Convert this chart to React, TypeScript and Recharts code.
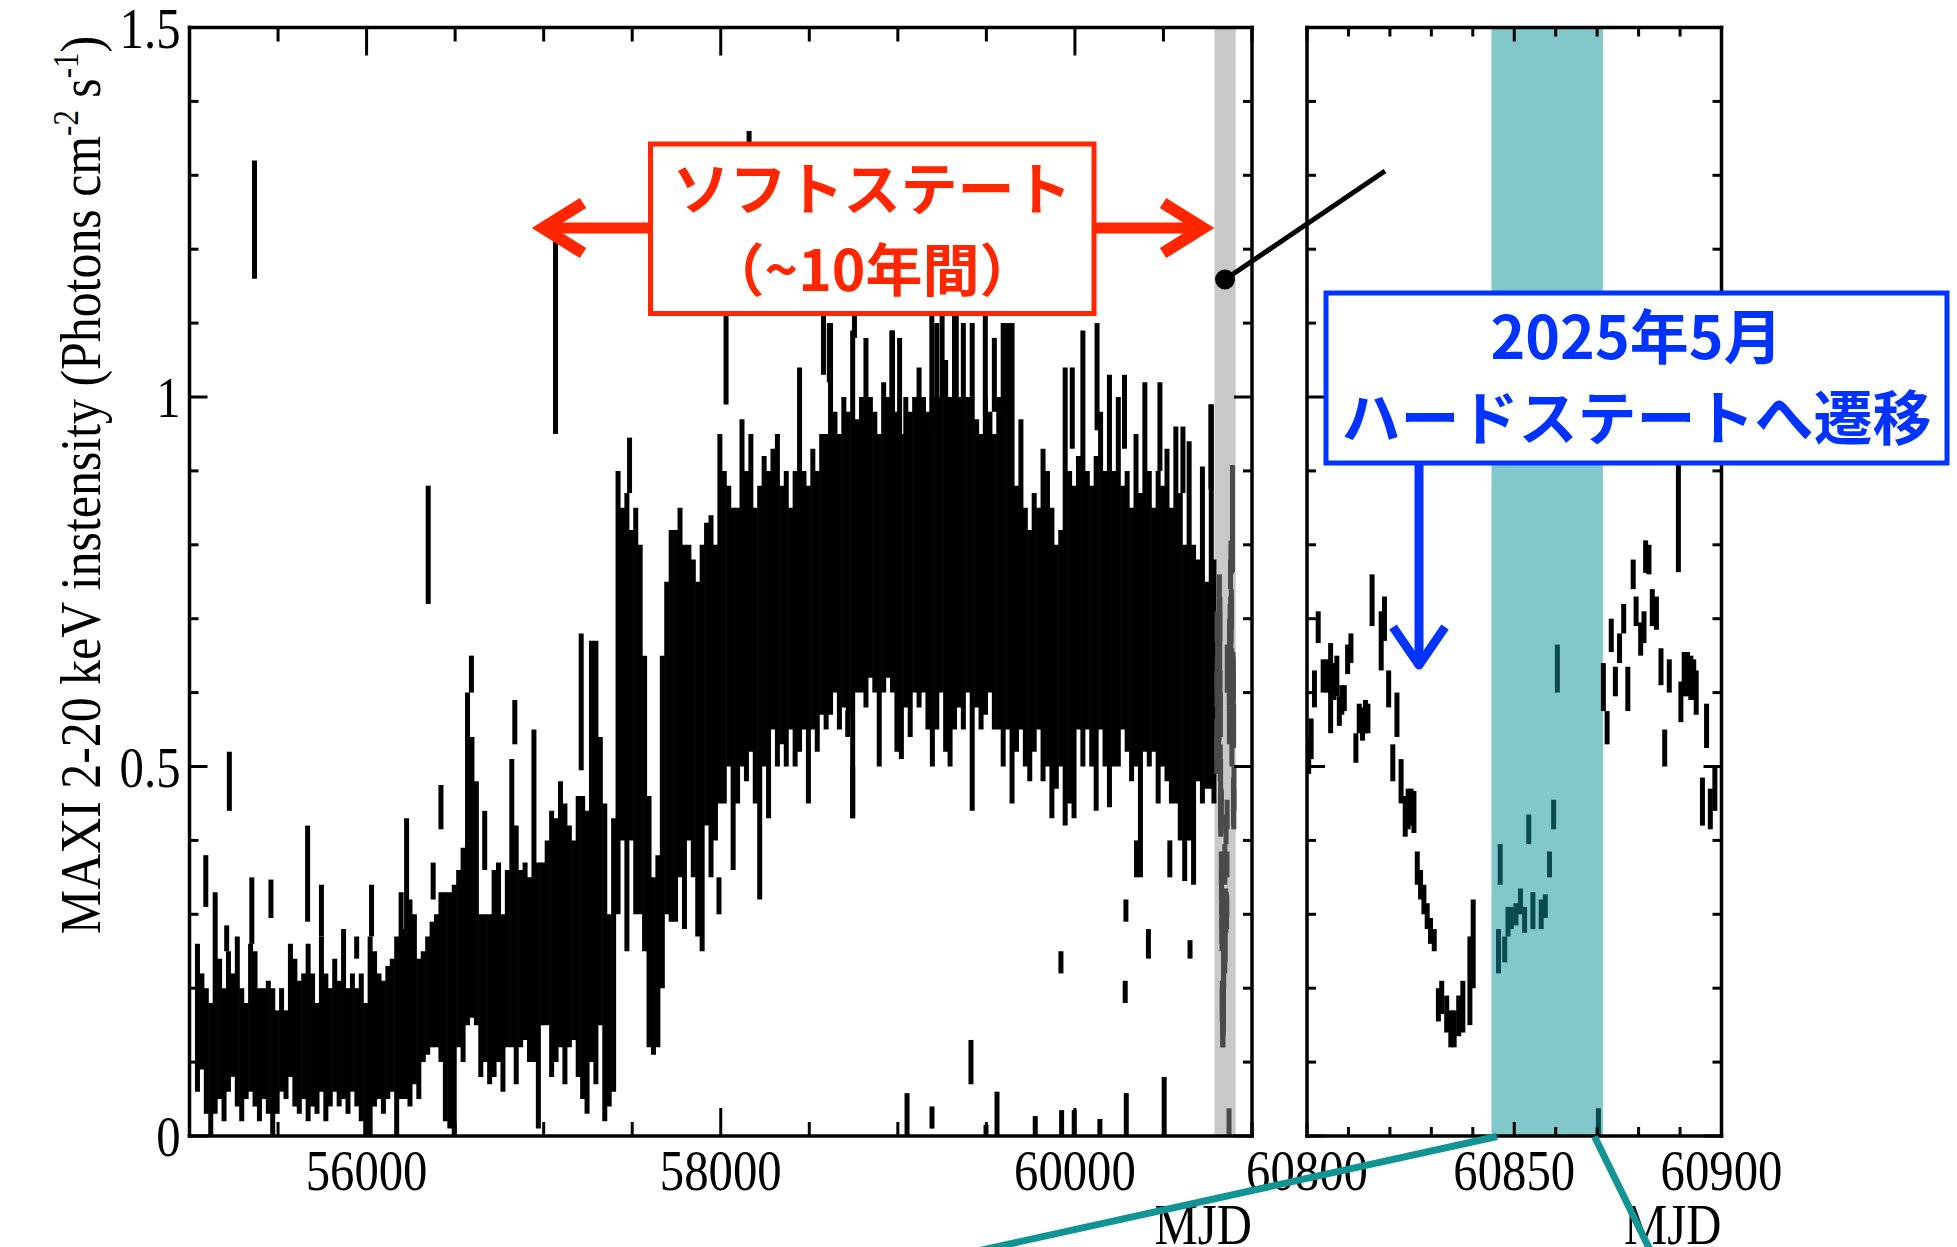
import React from 'react';
import { ComposedChart, Scatter, ErrorBar, XAxis, YAxis, ReferenceArea } from 'recharts';

// ---- MAXI light curve, [MJD, lower, upper] (error-bar extent) ----
const era2009to2013: number[][] = [
  [55045,0.06,0.26],[55070,0.09,0.22],[55095,0.03,0.2],[55120,0.0,0.18],[55145,0.03,0.33],[55170,0.05,0.24],
  [55195,0.02,0.2],[55220,0.06,0.25],[55245,0.08,0.22],[55270,0.04,0.27],[55295,0.02,0.2],[55320,0.05,0.18],
  [55345,0.06,0.26],[55370,0.04,0.25],[55395,0.02,0.2],[55420,0.05,0.2],[55445,0.03,0.21],[55470,0.0,0.2],
  [55495,0.03,0.17],[55520,0.06,0.2],[55545,0.05,0.17],[55570,0.08,0.26],[55595,0.04,0.24],[55620,0.03,0.21],
  [55645,0.05,0.22],[55670,0.02,0.26],[55695,0.04,0.22],[55720,0.03,0.18],[55745,0.06,0.27],[55770,0.02,0.22],
  [55795,0.04,0.2],[55820,0.06,0.24],[55845,0.04,0.21],[55870,0.05,0.28],[55895,0.03,0.2],[55920,0.06,0.22],
  [55945,0.04,0.2],[55970,0.02,0.22],[55995,0.0,0.18],[56020,0.0,0.27],[56045,0.04,0.25],[56070,0.05,0.22],
  [56095,0.03,0.21],[56120,0.05,0.23],[56145,0.06,0.24],[56170,0.0,0.27],[56195,0.05,0.33],[56220,0.05,0.28],
  [56245,0.04,0.32],[56270,0.07,0.3],[56295,0.05,0.24],[56320,0.1,0.25],[56345,0.11,0.27],[56370,0.12,0.29],
  [56395,0.12,0.3],[56420,0.1,0.33],[56445,0.02,0.33],[56470,0.01,0.33],[56495,0.0,0.34],[56520,0.12,0.36],
  [56545,0.1,0.39],[56570,0.15,0.6],
];
const era2013to2017: number[][] = [
  [56595,0.16,0.54],[56620,0.15,0.48],[56645,0.08,0.3],[56670,0.1,0.3],[56695,0.07,0.3],[56720,0.08,0.36],
  [56745,0.1,0.37],[56770,0.06,0.3],[56795,0.12,0.36],[56820,0.12,0.51],[56845,0.07,0.42],[56870,0.12,0.36],
  [56895,0.13,0.37],[56920,0.1,0.35],[56945,0.1,0.55],[56970,0.01,0.37],[56995,0.15,0.37],[57020,0.15,0.4],
  [57045,0.08,0.44],[57070,0.1,0.43],[57095,0.12,0.48],[57120,0.07,0.45],[57145,0.12,0.42],[57170,0.13,0.4],
  [57195,0.08,0.46],[57220,0.05,0.46],[57245,0.03,0.44],[57270,0.1,0.67],[57295,0.07,0.67],[57320,0.15,0.54],
  [57345,0.02,0.45],[57370,0.04,0.3],[57395,0.06,0.43],[57420,0.3,0.9],[57445,0.4,0.85],[57470,0.25,0.87],
  [57495,0.4,0.82],[57520,0.3,0.85],[57545,0.3,0.8],[57570,0.25,0.65],[57595,0.12,0.46],[57620,0.11,0.35],
  [57645,0.12,0.38],[57670,0.2,0.65],[57695,0.3,0.75],[57720,0.29,0.82],[57745,0.29,0.82],[57770,0.35,0.85],
  [57795,0.28,0.8],[57820,0.4,0.8],[57845,0.35,0.78],[57870,0.27,0.75],[57895,0.25,0.8],[57920,0.42,0.83],
  [57945,0.35,0.84],[57970,0.4,0.8],[57995,0.45,0.95],
];
const era2017to2021: number[][] = [
  [58020,0.45,0.9],[58045,0.5,0.88],[58070,0.36,0.85],[58095,0.45,0.85],[58120,0.5,0.97],[58145,0.48,0.9],
  [58170,0.52,0.95],[58195,0.45,0.85],[58220,0.32,0.88],[58245,0.5,0.92],[58270,0.43,0.9],[58295,0.55,0.93],
  [58320,0.5,0.95],[58345,0.53,0.88],[58370,0.5,0.9],[58395,0.55,0.85],[58420,0.5,0.9],[58445,0.52,1.04],
  [58470,0.55,0.9],[58495,0.45,0.88],[58520,0.55,0.93],[58545,0.52,0.9],[58570,0.57,0.95],[58595,0.55,0.95],
  [58620,0.57,1.1],[58645,0.6,0.98],[58670,0.55,0.95],[58695,0.58,1.0],[58720,0.57,0.98],[58745,0.43,1.09],
  [58770,0.6,0.97],[58795,0.6,1.0],[58820,0.58,1.08],[58845,0.62,1.0],[58870,0.6,0.98],[58895,0.5,0.95],
  [58920,0.6,1.02],[58945,0.62,1.0],[58970,0.6,1.09],[58995,0.52,0.98],[59020,0.51,0.95],[59045,0.58,1.0],
  [59070,0.54,0.98],[59095,0.6,1.0],[59120,0.58,1.04],[59145,0.6,1.0],[59170,0.55,0.98],[59195,0.5,1.0],
  [59220,0.55,1.1],[59245,0.6,1.0],[59270,0.52,1.05],[59295,0.5,1.0],[59320,0.55,1.12],[59345,0.58,1.0],
  [59370,0.55,1.1],[59395,0.6,1.0],[59420,0.44,1.1],[59445,0.58,0.97],[59470,0.55,0.95],[59495,0.57,1.0],
];
const era2021to2025: number[][] = [
  [59520,0.6,0.98],[59545,0.55,0.95],[59570,0.55,1.0],[59595,0.5,1.1],[59620,0.55,1.0],[59645,0.45,1.1],
  [59670,0.52,0.88],[59695,0.55,0.97],[59720,0.5,0.85],[59745,0.48,0.82],[59770,0.52,0.87],[59795,0.55,0.85],
  [59820,0.48,0.93],[59845,0.5,0.9],[59870,0.43,0.85],[59895,0.47,0.8],[59920,0.5,0.82],[59945,0.42,1.04],
  [59970,0.45,0.9],[59995,0.43,0.88],[60020,0.55,0.92],[60045,0.5,1.09],[60070,0.55,0.9],[60095,0.5,0.88],
  [60120,0.44,0.92],[60145,0.55,0.98],[60170,0.5,0.9],[60195,0.445,1.03],[60220,0.5,0.9],[60245,0.5,1.0],
  [60270,0.55,0.88],[60295,0.52,0.9],[60320,0.48,0.85],[60345,0.5,0.95],[60370,0.35,0.87],[60395,0.52,1.02],
  [60420,0.5,0.9],[60445,0.52,0.85],[60470,0.45,0.9],[60495,0.5,0.88],[60520,0.48,0.93],[60545,0.45,0.85],
  [60570,0.45,0.96],[60595,0.4,0.87],[60620,0.345,0.8],[60645,0.4,0.94],[60670,0.34,0.8],[60695,0.48,0.78],
  [60720,0.45,0.906],[60745,0.47,0.75],[60770,0.47,0.99],[60785,0.45,0.78],
];
// isolated points away from the dense band
const isolated: number[][] = [
  [55092,0.31,0.38],[55210,0.25,0.285],[55225,0.44,0.52],[55352,0.26,0.35],[55367,1.16,1.32],[55460,0.295,0.347],
  [55667,0.29,0.42],[55745,0.27,0.34],[55944,0.24,0.27],[56028,0.27,0.34],[56226,0.27,0.43],[56348,0.72,0.88],
  [56376,0.32,0.37],[56420,0.415,0.475],[56592,0.6,0.65],[56667,0.36,0.44],[56837,0.53,0.59],[57067,0.95,1.21],
  [57212,0.495,0.68],[57485,0.87,0.945],[57990,0.3,0.35],[58030,0.99,1.2],[58160,1.2,1.36],[58580,1.03,1.14],
  [58613,1.02,1.1],[58717,0.54,0.575],[58745,0.43,0.5],[58755,1.08,1.12],[58966,1.0,1.09],[59010,0.95,1.08],
  [59052,0.0,0.058],[59192,0.95,1.11],[59193,0.01,0.04],[59250,1.0,1.11],[59330,1.0,1.11],[59413,0.07,0.13],
  [59494,0.95,1.11],[59498,0.0,0.015],[59545,0.98,1.08],[59560,0.0,0.06],[59620,0.98,1.1],[59776,0.0,0.027],
  [59921,0.22,0.25],[59925,0.0,0.035],[59985,0.93,1.04],[59996,0.0,0.035],[60125,0.955,1.1],[60141,0.0,0.023],
  [60280,0.93,1.03],[60284,0.18,0.21],[60288,0.29,0.32],[60290,0.0,0.058],[60348,0.35,0.4],[60415,0.24,0.28],
  [60480,0.9,1.02],[60504,0.0,0.08],[60536,0.35,0.4],[60610,0.87,0.96],[60650,0.24,0.265],[60768,0.875,0.99],
];
// last 100 days (right panel, also inside the grey band of the left panel)
const recent: number[][] = [
  [60800.4,0.49,0.54],[60801.0,0.51,0.565],[60801.8,0.58,0.63],[60802.7,0.667,0.71],[60803.9,0.6,0.645],
  [60804.9,0.6,0.645],[60805.7,0.545,0.667],[60806.5,0.59,0.64],[60807.2,0.595,0.65],[60807.8,0.555,0.595],
  [60808.4,0.57,0.61],[60809.0,0.575,0.61],[60809.8,0.625,0.665],[60810.6,0.64,0.68],[60811.8,0.505,0.545],
  [60812.6,0.545,0.585],[60813.4,0.535,0.58],[60814.1,0.545,0.59],[60814.7,0.545,0.585],[60815.7,0.69,0.76],
  [60817.9,0.63,0.71],[60818.7,0.67,0.73],[60819.7,0.58,0.63],[60820.7,0.48,0.53],[60821.7,0.54,0.6],
  [60822.7,0.45,0.51],[60823.7,0.405,0.46],[60824.4,0.415,0.47],[60825.1,0.42,0.47],[60825.8,0.41,0.467],
  [60826.6,0.34,0.385],[60827.4,0.32,0.36],[60828.2,0.3,0.34],[60829.0,0.28,0.315],[60829.8,0.26,0.295],
  [60830.7,0.25,0.28],[60831.7,0.155,0.2],[60832.5,0.165,0.21],[60833.7,0.14,0.19],[60834.7,0.12,0.17],
  [60835.5,0.12,0.17],[60836.6,0.135,0.19],[60837.6,0.14,0.21],[60839.3,0.15,0.27],[60840.1,0.2,0.32],
  [60846.2,0.22,0.28],[60846.6,0.34,0.395],[60847.7,0.235,0.27],[60848.5,0.27,0.31],[60849.3,0.28,0.31],
  [60850.4,0.285,0.315],[60851.5,0.3,0.335],[60852.5,0.275,0.31],[60853.5,0.395,0.435],[60854.5,0.28,0.33],
  [60856.5,0.28,0.32],[60857.5,0.295,0.327],[60858.5,0.35,0.385],[60859.5,0.415,0.455],[60860.4,0.6,0.665],
  [60870.3,0.0,0.0375],[60871.5,0.575,0.64],[60872.4,0.53,0.575],[60873.4,0.655,0.7],[60874.4,0.595,0.635],
  [60875.4,0.64,0.68],[60876.4,0.68,0.72],[60877.4,0.575,0.635],[60878.7,0.74,0.78],[60879.4,0.69,0.73],
  [60880.5,0.65,0.695],[60881.3,0.667,0.71],[60881.7,0.762,0.806],[60882.5,0.76,0.8],[60883.3,0.69,0.74],
  [60884.3,0.685,0.73],[60885.4,0.61,0.66],[60886.3,0.5,0.55],[60887.4,0.6,0.645],[60889.6,0.763,0.908],
  [60890.2,0.56,0.615],[60891.0,0.595,0.655],[60891.8,0.595,0.655],[60892.6,0.59,0.65],[60893.3,0.59,0.645],
  [60893.9,0.57,0.63],[60895.4,0.42,0.485],[60896.4,0.525,0.585],[60897.3,0.415,0.47],[60898.4,0.44,0.5],
];

const greyBand = [60788, 60908];
const tealBand = [60844.5, 60871.4];

const leftXTicks = [55000, 55500, 56000, 56500, 57000, 57500, 58000, 58500, 59000, 59500, 60000, 60500, 61000];
const leftXLabels = [56000, 58000, 60000];
const rightXTicks = [60800, 60810, 60820, 60830, 60840, 60850, 60860, 60870, 60880, 60890, 60900];
const rightXLabels = [60800, 60850, 60900];
const yTicks = [0, 0.1, 0.2, 0.3, 0.4, 0.5, 0.6, 0.7, 0.8, 0.9, 1, 1.1, 1.2, 1.3, 1.4, 1.5];
const yMajor = [0, 0.5, 1, 1.5];

const SERIF = "'Liberation Serif', 'Times New Roman', serif";
const JP = "'Noto Sans CJK JP', 'Noto Sans', sans-serif";
const SX = 0.84; // horizontal squeeze of the serif lettering

type Row = number[];
const toPts = (rows: Row[]) => rows.map(([x, lo, hi]) => ({ x, y: (lo + hi) / 2, e: (hi - lo) / 2 }));
const allLeft = [...era2009to2013, ...era2013to2017, ...era2017to2021, ...era2021to2025, ...isolated];
const leftBlack = toPts(allLeft.filter((r) => r[0] < greyBand[0]));
const leftGrey = toPts([...allLeft.filter((r) => r[0] >= greyBand[0]), ...recent]);
const rightBlack = toPts(recent.filter((r) => r[0] < tealBand[0] || r[0] > tealBand[1]));
const rightTeal = toPts(recent.filter((r) => r[0] >= tealBand[0] && r[0] <= tealBand[1]));

const isIn = (arr: number[], v: number) => arr.some((m) => Math.abs(m - v) < 1e-6);

function SerifText({ x, y, anchor, children }: { x: number; y: number; anchor: 'start' | 'middle' | 'end'; children: any }) {
  return (
    <text transform={`translate(${x},${y}) scale(${SX},1)`} textAnchor={anchor} fontFamily={SERIF} fontSize={58} fill="#000">
      {children}
    </text>
  );
}

function makeTick(orient: 'bottom' | 'top' | 'left' | 'right', majors: number[], majLen: number, minLen: number, showLabel: boolean) {
  return (props: any) => {
    const { x, y, payload } = props;
    const v = payload.value;
    const major = isIn(majors, v);
    const len = major ? majLen : minLen;
    let line: any = null;
    let label: any = null;
    if (orient === 'bottom') {
      line = <line x1={x} x2={x} y1={y} y2={y - len} stroke="#000" strokeWidth={3} />;
      if (showLabel && major) label = <SerifText x={x} y={y + 54} anchor="middle">{v}</SerifText>;
    } else if (orient === 'top') {
      line = <line x1={x} x2={x} y1={y} y2={y + len} stroke="#000" strokeWidth={3} />;
    } else if (orient === 'left') {
      line = <line x1={x} x2={x + len} y1={y} y2={y} stroke="#000" strokeWidth={3} />;
      if (showLabel && major) label = <SerifText x={x - 9} y={y + 20} anchor="end">{String(v)}</SerifText>;
    } else {
      line = <line x1={x} x2={x - len} y1={y} y2={y} stroke="#000" strokeWidth={3} />;
    }
    return <g>{line}{label}</g>;
  };
}

const Empty = () => <g />;
const axisLine = { stroke: '#000', strokeWidth: 3.5, strokeLinecap: 'square' as const };

function Bars({ data, color }: { data: any[]; color: string }) {
  return (
    <Scatter data={data} xAxisId="b" yAxisId="l" dataKey="y" shape={Empty} isAnimationActive={false} fill={color}>
      <ErrorBar dataKey="e" direction="y" width={0} stroke={color} strokeWidth={5} isAnimationActive={false} />
    </Scatter>
  );
}

function Panel(props: {
  left: number; width: number; margin: any; domain: number[]; xTicks: number[]; xMajor: number[];
  xMajLen: number; xMinLen: number; yLabels: boolean; band: number[]; bandColor: string; children: any;
}) {
  const { left, width, margin, domain, xTicks, xMajor, xMajLen, xMinLen, yLabels, band, bandColor, children } = props;
  return (
    <div style={{ position: 'absolute', left, top: 0 }}>
      <ComposedChart width={width} height={1247} margin={margin}>
        <XAxis xAxisId="b" dataKey="x" type="number" domain={domain} allowDataOverflow ticks={xTicks} interval={0}
          orientation="bottom" height={1} tickSize={0} tickMargin={0} tickLine={false} axisLine={axisLine}
          tick={makeTick('bottom', xMajor, xMajLen, xMinLen, true)} />
        <XAxis xAxisId="t" dataKey="x" type="number" domain={domain} allowDataOverflow ticks={xTicks} interval={0}
          orientation="top" height={1} tickSize={0} tickMargin={0} tickLine={false} axisLine={axisLine}
          tick={makeTick('top', xMajor, xMajLen, xMinLen, false)} />
        <YAxis yAxisId="l" dataKey="y" type="number" domain={[0, 1.5]} allowDataOverflow ticks={yTicks} interval={0}
          orientation="left" width={1} tickSize={0} tickMargin={0} tickLine={false} axisLine={axisLine}
          tick={makeTick('left', yMajor, 18, 9, yLabels)} />
        <YAxis yAxisId="r" dataKey="y" type="number" domain={[0, 1.5]} allowDataOverflow ticks={yTicks} interval={0}
          orientation="right" width={1} tickSize={0} tickMargin={0} tickLine={false} axisLine={axisLine}
          tick={makeTick('right', yMajor, 18, 9, false)} />
        <ReferenceArea xAxisId="b" yAxisId="l" x1={band[0]} x2={band[1]} y1={0} y2={1.5} fill={bandColor} fillOpacity={1} stroke="none" ifOverflow="hidden" />
        {children}
      </ComposedChart>
    </div>
  );
}

export default function App() {
  return (
    <div style={{ position: 'absolute', left: 0, top: 0, width: 1957, height: 1247, overflow: 'hidden', background: '#fff' }}>
      <Panel left={0} width={1300} margin={{ top: 26.5, right: 47, bottom: 110, left: 188.5 }} domain={[55000, 61000]}
        xTicks={leftXTicks} xMajor={leftXLabels} xMajLen={28} xMinLen={14} yLabels={true} band={greyBand} bandColor="#c8c8c8">
        {Bars({ data: leftBlack, color: '#000' })}
        {Bars({ data: leftGrey, color: '#4a4a4a' })}
      </Panel>
      <Panel left={1200} width={700} margin={{ top: 26.5, right: 177.5, bottom: 110, left: 106 }} domain={[60800, 60900]}
        xTicks={rightXTicks} xMajor={rightXLabels} xMajLen={14} xMinLen={9} yLabels={false} band={tealBand} bandColor="#82c8ca">
        {Bars({ data: rightBlack, color: '#000' })}
        {Bars({ data: rightTeal, color: '#0a4a4c' })}
      </Panel>
      <svg width={1957} height={1247} style={{ position: 'absolute', left: 0, top: 0, pointerEvents: 'none' }}>
        <text transform="translate(100,485) rotate(-90) scale(0.86,1)" textAnchor="middle" fontFamily={SERIF} fontSize={58} fill="#000">
          MAXI 2-20 keV instensity (Photons cm<tspan dy={-22} fontSize={36}>-2</tspan><tspan dy={22}> s</tspan><tspan dy={-22} fontSize={36}>-1</tspan><tspan dy={22}>)</tspan>
        </text>
        <SerifText x={1252} y={1244} anchor="end">MJD</SerifText>
        <SerifText x={1721.5} y={1244} anchor="end">MJD</SerifText>

        <line x1={548} y1={228} x2={652} y2={228} stroke="#ff2600" strokeWidth={11} />
        <polyline points="583,203 543,228 583,253" fill="none" stroke="#ff2600" strokeWidth={12} />
        <line x1={1093} y1={228} x2={1198} y2={228} stroke="#ff2600" strokeWidth={11} />
        <polyline points="1163,203 1203,228 1163,253" fill="none" stroke="#ff2600" strokeWidth={12} />
        <rect x={650.5} y={144} width={443.5} height={169.5} fill="#fff" stroke="#ff2600" strokeWidth={5} />
        <text x={872} y={185} textAnchor="middle" dominantBaseline="central" fontFamily={JP} fontWeight={700} fontSize={57} fill="#ff2600">ソフトステート</text>
        <text x={872} y={266} textAnchor="middle" dominantBaseline="central" fontFamily={JP} fontWeight={700} fontSize={57} fill="#ff2600">（~10年間）</text>

        <line x1={1225} y1={279.5} x2={1385} y2={171} stroke="#000" strokeWidth={5} />
        <circle cx={1225} cy={279.5} r={10} fill="#000" />

        <line x1={1419} y1={463} x2={1419} y2={662} stroke="#0033ff" strokeWidth={9} />
        <polyline points="1393,627 1419,665 1445,627" fill="none" stroke="#0033ff" strokeWidth={9} strokeLinejoin="round" />
        <rect x={1326} y={293} width={621} height={170} fill="#fff" stroke="#0033ff" strokeWidth={5} />
        <text x={1636.5} y={333} textAnchor="middle" dominantBaseline="central" fontFamily={JP} fontWeight={700} fontSize={59} fill="#0033ff">2025年5月</text>
        <text x={1636.5} y={414} textAnchor="middle" dominantBaseline="central" fontFamily={JP} fontWeight={700} fontSize={59} fill="#0033ff">ハードステートへ遷移</text>

        <line x1={1497} y1={1136.5} x2={973} y2={1252} stroke="#109494" strokeWidth={7} />
        <line x1={1594.5} y1={1136.5} x2={1651} y2={1252} stroke="#109494" strokeWidth={7} />
      </svg>
    </div>
  );
}
